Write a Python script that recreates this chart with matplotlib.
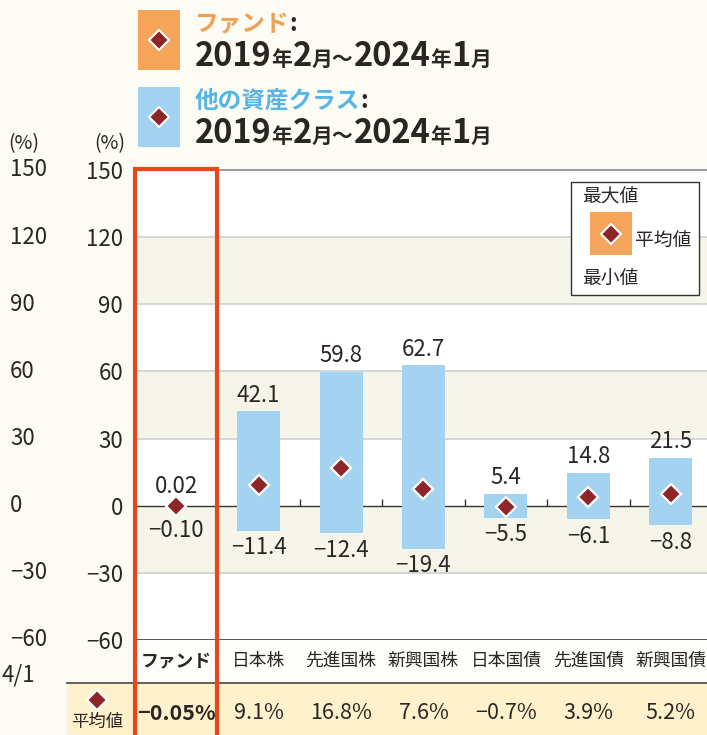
import matplotlib
matplotlib.use('Agg')
import matplotlib.pyplot as plt
import matplotlib.transforms as mtransforms
from matplotlib.patches import Rectangle
from matplotlib.lines import Line2D

plt.rcParams['font.family'] = ['Noto Sans CJK JP', 'DejaVu Sans']

# =========================
# DATA
# =========================
categories = ['ファンド', '日本株', '先進国株', '新興国株', '日本国債', '先進国債', '新興国債']
max_vals = [0.02, 42.1, 59.8, 62.7, 5.4, 14.8, 21.5]
min_vals = [-0.10, -11.4, -12.4, -19.4, -5.5, -6.1, -8.8]
mean_vals = [-0.05, 9.1, 16.8, 7.6, -0.7, 3.9, 5.2]
yticks = [150, 120, 90, 60, 30, 0, -30, -60]
period = '2019年2月〜2024年1月'

# colours
BG = '#FCFBF4'
BAND = '#F6F5EA'
BLUE = '#A3D3F0'
ORANGE = '#F4A55A'
DIAMOND = '#8E2528'
RED = '#E9471B'
TXT = '#2B2523'

W, H = 707, 735
def fx(x):
    return x / W
def fy(y):
    return 1 - y / H

def mfmt(v):
    return str(v).replace('-', '\u2212')

fig = plt.figure(figsize=(W / 100, H / 100), dpi=100)
fig.patch.set_facecolor(BG)

ax = fig.add_axes([fx(135), fy(640), 577 / W, 470 / H])
ax.set_xlim(-0.5, 6.5)
ax.set_ylim(-60, 150)
ax.set_facecolor('white')

# bands + grid
for lo in [90, 30, -30]:
    ax.axhspan(lo, lo + 30, color=BAND, zorder=0, lw=0)
for g in [120, 90, 60, 30, -30]:
    ax.axhline(g, color='#CFCFCF', lw=1.2, zorder=1)
ax.axhline(0, color='#333333', lw=1, zorder=2)
ax.vlines([i + 0.5 for i in range(6)], 0, 2.8, color='#333333', lw=1, zorder=2)

for s in ['left', 'right']:
    ax.spines[s].set_visible(False)
ax.spines['top'].set_color('#8A8A8A')
ax.spines['top'].set_linewidth(1.2)
ax.spines['bottom'].set_color('#3A3A3A')
ax.spines['bottom'].set_linewidth(1.2)

ax.set_xticks([])
ax.set_yticks(yticks)
ax.set_yticklabels([mfmt(v) for v in yticks])
ax.tick_params(axis='y', length=0, pad=8.5, labelsize=16, labelcolor=TXT)

# bars
x = list(range(len(categories)))
heights = [mx - mn for mx, mn in zip(max_vals, min_vals)]
bar_colors = [ORANGE] + [BLUE] * (len(categories) - 1)
ax.bar(x, heights, bottom=min_vals, width=0.52, color=bar_colors, lw=0, zorder=3)
ax.plot(x, mean_vals, ls='none', marker='D', ms=10.5, mfc=DIAMOND, mec='white',
        mew=1.6, zorder=5)

def fmt(v, nd=1):
    return f'{v:.{nd}f}'.replace('-', '\u2212')

for i in x:
    nd = 2 if i == 0 else 1
    top_off = 14 if i == 0 else 11.5
    bot_off = 18 if i == 0 else 12
    ax.annotate(fmt(max_vals[i], nd), (i, max_vals[i]), xytext=(0, top_off),
                textcoords='offset points', ha='center', va='center',
                fontsize=16, color=TXT, zorder=6)
    ax.annotate(fmt(min_vals[i], nd), (i, min_vals[i]), xytext=(0, -bot_off),
                textcoords='offset points', ha='center', va='center',
                fontsize=16, color=TXT, zorder=6)

# left, cut-off panel labels
lt = mtransforms.blended_transform_factory(fig.transFigure, ax.transData)
for v in yticks:
    fig.text(fx(10), v, mfmt(v), transform=lt, ha='left', va='center',
             fontsize=16, color=TXT)
fig.text(fx(8), fy(144), '(%)', ha='left', va='center', fontsize=14, color=TXT)
fig.text(fx(125), fy(144), '(%)', ha='right', va='center', fontsize=14, color=TXT)
fig.text(fx(1), fy(675), '4/1', ha='left', va='center', fontsize=16, color=TXT)

# category label row + mean row
fig.add_artist(Rectangle((fx(135), fy(683)), (W - 135) / W, 43 / H,
                         transform=fig.transFigure, fc='#FDFDF9', lw=0, zorder=0.5))
fig.add_artist(Rectangle((fx(67), fy(740)), (W - 67) / W, 57 / H,
                         transform=fig.transFigure, fc='#FFF1CC', lw=0, zorder=0.5))
fig.add_artist(Line2D([fx(67), 1], [fy(683), fy(683)], transform=fig.transFigure,
                      color='#555555', lw=1.3, zorder=1))

ct = mtransforms.blended_transform_factory(ax.transData, fig.transFigure)
for i, c in enumerate(categories):
    wt = 'bold' if i == 0 else 'normal'
    fig.text(i, fy(661), c, transform=ct, ha='center', va='center', fontsize=12.8,
             color=TXT, fontweight=wt, zorder=3)
    fig.text(i, fy(713), fmt(mean_vals[i], 2 if i == 0 else 1) + '%', transform=ct,
             ha='center', va='center', fontsize=15.5, color=TXT, fontweight=wt, zorder=3)

fig.add_artist(Line2D([fx(97)], [fy(700)], transform=fig.transFigure, marker='D',
                      ms=10, mfc=DIAMOND, mec='white', mew=1.5, ls='none', zorder=3))
fig.text(fx(97), fy(722), '平均値', ha='center', va='center', fontsize=12.5, color=TXT, zorder=3)

# fund highlight box
fig.add_artist(Rectangle((fx(135), fy(745)), (217 - 135) / W, (745 - 169) / H,
                         transform=fig.transFigure, fill=False, ec=RED, lw=3, zorder=10))

# legend box inside plot
fig.add_artist(Rectangle((fx(571), fy(295)), 128 / W, 113 / H, transform=fig.transFigure,
                         fc='white', ec='#333333', lw=1, zorder=6))
fig.add_artist(Rectangle((fx(590), fy(255)), 42 / W, 43 / H, transform=fig.transFigure,
                         fc=ORANGE, lw=0, zorder=7))
fig.add_artist(Line2D([fx(611)], [fy(234)], transform=fig.transFigure, marker='D',
                      ms=10, mfc=DIAMOND, mec='white', mew=1.5, ls='none', zorder=8))
fig.text(fx(582), fy(197), '最大値', ha='left', va='center', fontsize=13.5, color=TXT, zorder=8)
fig.text(fx(635), fy(240), '平均値', ha='left', va='center', fontsize=13.5, color=TXT, zorder=8)
fig.text(fx(582), fy(279), '最小値', ha='left', va='center', fontsize=13.5, color=TXT, zorder=8)

# top legend
def ann(prev_t, s, fs, y_base, color=TXT):
    return fig.add_artist(plt.Annotation(s, xy=(1, fy(y_base)),
                                         xycoords=(prev_t, 'figure fraction'),
                                         ha='left', va='baseline', fontsize=fs,
                                         fontweight='bold', color=color))

def draw_period(x0, y_base):
    parts = []
    buf = ''
    for ch in period:
        if buf and buf[-1].isdigit() != ch.isdigit():
            parts.append(buf)
            buf = ''
        buf += ch
    parts.append(buf)
    t = fig.text(fx(x0), fy(y_base), parts[0], ha='left', va='baseline',
                 fontsize=23.5, fontweight='bold', color=TXT)
    for p in parts[1:]:
        fs = 23.5 if p[0].isdigit() else 15
        t = ann(t, p, fs, y_base)

for (y0, col, tcol, label) in [(10, ORANGE, '#F0A050', 'ファンド'),
                               (87, BLUE, '#55B5E6', '他の資産クラス')]:
    fig.add_artist(Rectangle((fx(138), fy(y0 + 60)), 42 / W, 60 / H,
                             transform=fig.transFigure, fc=col, lw=0))
    fig.add_artist(Line2D([fx(159)], [fy(y0 + 30)], transform=fig.transFigure, marker='D',
                          ms=10, mfc=DIAMOND, mec='white', mew=1.5, ls='none'))
    t = fig.text(fx(195), fy(y0 + 21), label, ha='left', va='baseline', fontsize=17,
                 fontweight='bold', color=tcol)
    ann(t, ':', 17, y0 + 21)
    draw_period(195, y0 + 56)

fig.savefig('out.png', dpi=100, facecolor=BG)
